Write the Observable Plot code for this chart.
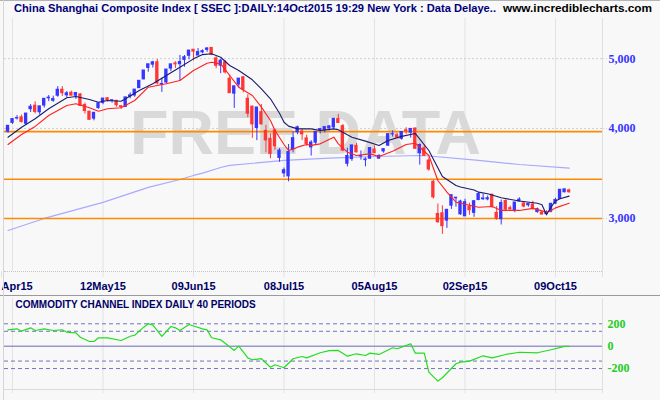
<!DOCTYPE html>
<html><head><meta charset="utf-8">
<script src="https://cdn.jsdelivr.net/npm/d3@7"></script>
<script src="https://cdn.jsdelivr.net/npm/@observablehq/plot@0.6"></script>
<style>
html,body{margin:0;padding:0;}
body{width:660px;height:400px;background:#f8f8f8;position:relative;overflow:hidden;font-family:"Liberation Sans",Arial,sans-serif;}
.abs{position:absolute;}
#t1,#t2{position:absolute;top:3px;font-weight:bold;font-size:11.5px;line-height:11.5px;white-space:nowrap;transform-origin:0 0;}
#t1{left:14px;color:#00007a;}
#t2{left:503px;color:#000;}
</style></head><body>
<div class="abs" style="left:0;top:0;width:660px;height:1px;background:#b4b4b4"></div>
<div id="t1">China Shanghai Composite Index [ SSEC ]:DAILY:14Oct2015 19:29 New York : Data Delaye..</div>
<div id="t2">www.incrediblecharts.com</div>
<div id="main" class="abs" style="left:0;top:18px"></div>
<div id="cci" class="abs" style="left:0;top:297px"></div>
<div class="abs" style="left:0;top:295px;width:660px;height:1px;background:#9a9a9a"></div>
<div class="abs" style="left:3px;top:0;width:1px;height:400px;background:#d6d6d6"></div>
<div class="abs" style="left:602px;top:18px;width:1px;height:259px;background:#e0e0e0"></div>
<div class="abs" style="left:602px;top:298px;width:1px;height:95px;background:#e0e0e0"></div>
<div class="abs" style="left:4px;top:271px;width:598px;height:0;border-top:1px dotted #c4c4c4"></div>
<div class="abs" style="left:4px;top:389px;width:598px;height:1px;background:#dadada"></div>
<script>
// ---- data ----
const tickIdx = [1, 21, 41, 61, 81, 101, 121];
const tickLabels = ["Apr15","12May15","09Jun15","08Jul15","05Aug15","02Sep15","09Oct15"];
const priceTicks = [3000, 4000, 5000];
const levels = [3960, 3400, 3000];
const cciTicks = [200, 0, -200];
const cciBands = [200, 133, -133, -200];
const cciTitle = "COMMODITY CHANNEL INDEX DAILY 40 PERIODS";

const open = [3960,4072,4130,4145,4060,4254,4302,4213,4304,4405,
4370,4441,4528,4447,4483,4441,4460,4311,4220,4127,
4269,4341,4406,4375,4369,4295,4285,4429,4445,4550,
4680,4854,4905,4943,4603,4633,4844,4924,4912,4980,
5046,5145,5050,5101,5143,5175,5004,4890,4942,4690,
4471,4604,4711,4399,4289,4006,4214,3970,3870,3975,
3640,3465,3432,3745,3950,3960,3875,3765,3823,3975,
3974,4000,4013,4122,4030,3573,3627,3784,3657,3615,
3631,3740,3632,3717,3786,3925,3914,3870,3976,3947,
3999,3696,3755,3610,3373,3043,3050,2979,3125,3200,
3040,3020,3115,3054,3182,3190,3189,3237,3054,2993,
3172,3100,3072,3167,3148,3129,3137,3062,3056,3043,
3065,3145,3193,3262,3282];
const high = [4034,4128,4168,4175,4195,4317,4356,4293,4398,4444,
4435,4572,4573,4500,4507,4488,4470,4338,4226,4206,
4337,4401,4414,4379,4376,4302,4418,4482,4529,4658,
4814,4911,4958,4987,4698,4829,4911,4951,5052,5051,
5132,5147,5164,5143,5178,5176,5030,4990,4967,4744,
4577,4691,4720,4456,4297,4279,4318,4040,3930,3990,
3750,3525,3800,3959,4030,3993,3915,3847,3958,4000,
4018,4038,4132,4184,4050,3755,3790,3816,3723,3642,
3757,3783,3680,3750,3929,3970,3939,3955,4009,3994,
4006,3807,3792,3641,3389,3142,3124,3084,3233,3207,
3180,3190,3150,3175,3257,3243,3223,3238,3117,3182,
3183,3121,3157,3206,3155,3143,3170,3101,3065,3074,
3150,3200,3291,3294,3295];
const low = [3940,4053,4110,4070,4040,4210,4190,4175,4270,4358,
4350,4420,4432,4411,4441,4389,4290,4187,4106,4099,
4255,4316,4355,4337,4280,4252,4285,4398,4419,4550,
4672,4788,4853,4597,4489,4615,4797,4846,4648,4865,
4982,4965,5050,5077,5103,5048,4842,4767,4762,4476,
4265,4552,4483,4139,3876,3847,4043,3700,3630,3730,
3590,3421,3373,3700,3920,3850,3781,3662,3789,3930,
3944,3967,3990,4069,3715,3537,3601,3699,3614,3538,
3622,3694,3625,3696,3776,3891,3876,3852,3926,3878,
3743,3558,3663,3490,3192,2953,2851,2906,3088,3110,
3030,3019,3030,3011,3175,3178,3174,3102,2983,2938,
3077,3074,3055,3165,3104,3110,3082,3050,3033,3040,
3055,3136,3188,3256,3251];
const close = [4034,4122,4135,4084,4195,4287,4217,4293,4398,4414,
4394,4527,4477,4476,4442,4480,4299,4229,4112,4206,
4334,4401,4376,4378,4309,4284,4418,4446,4529,4658,
4814,4911,4942,4620,4612,4829,4910,4910,4947,5023,
5131,5114,5106,5122,5166,5063,4887,4968,4785,4478,
4577,4691,4528,4193,4053,4277,4054,3850,3687,3776,
3727,3500,3709,3878,4015,3925,3806,3823,3957,3992,
4018,4026,4124,4071,3726,3663,3789,3706,3664,3623,
3757,3695,3662,3744,3928,3928,3886,3955,3965,3994,
3748,3794,3664,3508,3210,2965,2927,3084,3232,3206,
3166,3160,3080,3170,3243,3198,3200,3115,2999,3152,
3086,3090,3157,3186,3116,3143,3092,3090,3038,3053,
3143,3183,3288,3293,3262];

const maNavy = [[0,3890],[3,4016],[6,4126],[9,4260],[13,4412],[15,4430],[18,4388],[20,4350],[22,4374],[25,4364],[26,4398],[29,4516],[32,4614],[35,4738],[38,4865],[41,4997],[43,5065],[45,5078],[47,5023],[49,4892],[51,4814],[54,4673],[56,4541],[58,4398],[60,4200],[61,4080],[62,4030],[64,3995],[67,3995],[69,3974],[72,3995],[73,3983],[76,3890],[79,3841],[82,3789],[84,3850],[87,3900],[90,3937],[93,3728],[96,3431],[99,3334],[100,3318],[103,3285],[104,3263],[106,3247],[109,3205],[113,3172],[117,3150],[118,3135],[119,3035],[120,3110],[121,3172],[122,3195],[124,3222]];
const maRed = [[0,3800],[3,3924],[6,4026],[9,4169],[13,4305],[15,4328],[18,4274],[20,4227],[22,4260],[25,4274],[28,4374],[31,4564],[35,4614],[38,4663],[41,4814],[44,4928],[45,4943],[47,4918],[49,4738],[51,4564],[54,4444],[56,4282],[58,4103],[59,3974],[61,3800],[62,3728],[63,3744],[64,3768],[66,3800],[67,3789],[69,3808],[72,3890],[73,3808],[75,3708],[77,3669],[80,3688],[82,3657],[85,3719],[88,3800],[90,3816],[93,3669],[95,3387],[97,3263],[99,3160],[104,3110],[107,3117],[109,3078],[113,3078],[116,3098],[119,3061],[120,3078],[121,3103],[124,3150]];
const maLong = [[0,2887],[8,3000],[21,3158],[31,3313],[38,3398],[41,3442],[43,3467],[47,3531],[49,3555],[61,3611],[71,3638],[81,3657],[91,3669],[93,3663],[104,3611],[113,3565],[124,3523]];
const cci = [[0,146],[2,155],[3,134],[5,164],[6,140],[8,155],[10,140],[12,146],[13,125],[15,119],[16,80],[18,42],[19,42],[20,75],[22,75],[25,51],[27,89],[28,98],[30,170],[31,200],[32,190],[34,87],[36,176],[37,164],[38,140],[40,194],[41,180],[43,155],[44,146],[45,75],[47,57],[50,-38],[51,0],[53,-104],[54,-121],[56,-112],[58,-188],[59,-166],[61,-193],[63,-112],[65,-92],[66,-104],[69,-59],[71,-40],[73,-38],[75,-89],[77,-68],[79,-83],[80,-62],[82,-74],[85,-14],[86,-23],[89,21],[90,-62],[92,-62],[93,-232],[95,-312],[96,-282],[99,-157],[100,-143],[102,-134],[105,-86],[107,-104],[110,-74],[113,-54],[117,-59],[120,-32],[123,-2],[124,-2]];

// ---- build ----
const BLUE = "#3636ff", RED = "#ff3636";
const SANS = "Liberation Sans, Arial, sans-serif";
const SERIF = "Liberation Serif, Times New Roman, serif";
const candles = open.map((o, i) => ({i, open: o, high: high[i], low: low[i], close: close[i]}));
const up = candles.filter(d => d.close >= d.open);
const down = candles.filter(d => d.close < d.open);
const toObj = a => a.map(([i, v]) => ({i, v}));
const xDom = [(4 - 7.5) / 4.525, (602 - 7.5) / 4.525];
const labelOf = i => tickLabels[tickIdx.indexOf(i)];
const fmt = d3.format(",");

const mainChart = Plot.plot({
  width: 660, height: 278, marginLeft: 4, marginRight: 58, marginTop: 0, marginBottom: 25,
  style: {background: "transparent", overflow: "visible"},
  x: {domain: xDom, axis: null},
  y: {type: "log", domain: [2532, 5685], axis: null},
  marks: [
    Plot.ruleX(tickIdx, {stroke: "#e3e3e3"}),
    Plot.ruleY(priceTicks, {stroke: "#cfcfcf", strokeDasharray: "2,2"}),
    Plot.text(["FREE DATA"], {text: d => d, frameAnchor: "middle", dx: 2, dy: -11.5, fontSize: 63, fontWeight: "bold", fill: "#d9d9d9", fontFamily: SANS}),
    Plot.line(toObj(maLong), {x: "i", y: "v", stroke: "#a9a9ff", strokeWidth: 1.2}),
    Plot.ruleY(levels, {stroke: "#ff8a00", strokeWidth: 1.6}),
    Plot.ruleX(up, {x: "i", y1: "low", y2: "high", stroke: BLUE}),
    Plot.ruleX(down, {x: "i", y1: "low", y2: "high", stroke: RED}),
    Plot.rect(up, {x1: d => d.i - 0.37, x2: d => d.i + 0.37, y1: "open", y2: "close", fill: BLUE, insetTop: -0.5, insetBottom: -0.5}),
    Plot.rect(down, {x1: d => d.i - 0.37, x2: d => d.i + 0.37, y1: "open", y2: "close", fill: RED, insetTop: -0.5, insetBottom: -0.5}),
    Plot.line(toObj(maRed), {x: "i", y: "v", stroke: "#ff2020", strokeWidth: 1.1}),
    Plot.line(toObj(maNavy), {x: "i", y: "v", stroke: "#1c1c6c", strokeWidth: 1.1}),
    Plot.axisX(tickIdx.slice(1), {anchor: "bottom", tickSize: 6, tickPadding: 4.5, tickFormat: labelOf, stroke: "#e3e3e3", fill: "#000066", fontSize: 11, fontWeight: "bold", fontFamily: SANS, label: null}),
    Plot.axisX([tickIdx[0]], {anchor: "bottom", tickSize: 6, tickPadding: 4.5, tickFormat: labelOf, stroke: "#e3e3e3", fill: "#000066", fontSize: 11, fontWeight: "bold", fontFamily: SANS, textAnchor: "start", dx: -11, label: null}),
    Plot.ruleY(priceTicks, {x1: xDom[1], x2: xDom[1] + 1.1, stroke: "#cfcfcf", strokeDasharray: "2,2"}),
    Plot.text(priceTicks, {y: d => d, text: d => fmt(d), frameAnchor: "right", dx: 6, textAnchor: "start", fill: "#3535ff", fontSize: 12, fontWeight: "bold", fontFamily: SERIF})
  ]
});
document.getElementById("main").appendChild(mainChart);

const cciChart = Plot.plot({
  width: 660, height: 103, marginLeft: 4, marginRight: 58, marginTop: 1, marginBottom: 11,
  style: {background: "transparent", overflow: "visible"},
  x: {domain: xDom, axis: null},
  y: {domain: [-387, 426], axis: null},
  marks: [
    Plot.ruleX(tickIdx, {stroke: "#e3e3e3"}),
    Plot.axisX(tickIdx, {anchor: "bottom", tickSize: 4, tickFormat: () => "", stroke: "#e3e3e3", label: null}),
    Plot.ruleY(cciBands, {stroke: "#7272c2", strokeDasharray: "4,3"}),
    Plot.ruleY([0], {stroke: "#6868b8"}),
    Plot.line(toObj(cci), {x: "i", y: "v", stroke: "#22dd22", strokeWidth: 1.2}),
    Plot.text([cciTitle], {text: d => d, frameAnchor: "top-left", dx: 11, dy: 2.5, lineAnchor: "top", textAnchor: "start", fill: "#000066", fontSize: 10, fontWeight: "bold", fontFamily: SANS}),
    Plot.text(cciTicks, {y: d => d, text: d => String(d), frameAnchor: "right", dx: 5, textAnchor: "start", fill: "#22cc22", fontSize: 12, fontWeight: "bold", fontFamily: SERIF})
  ]
});
document.getElementById("cci").appendChild(cciChart);

// fit header texts to their measured widths in the reference
function fit(id, w) {
  const el = document.getElementById(id);
  const r = el.getBoundingClientRect().width;
  if (r > 0) el.style.transform = "scaleX(" + (w / r) + ")";
}
fit("t1", 482);
fit("t2", 149);
</script>
</body></html>
